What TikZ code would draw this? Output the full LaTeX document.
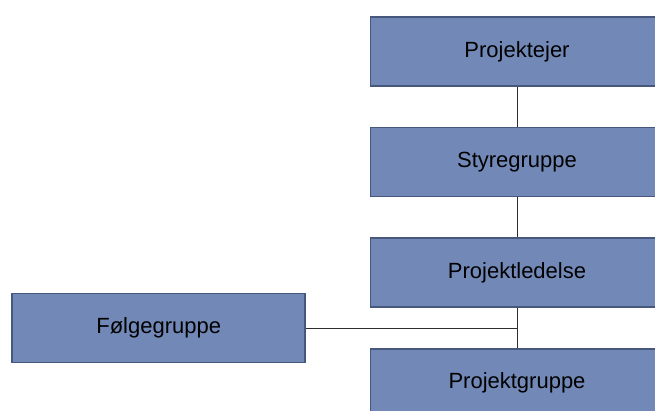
\documentclass[tikz,border=0pt]{standalone}
\usepackage{fontspec}
\setmainfont{Liberation Sans}
\usetikzlibrary{positioning,calc}
\definecolor{boxblue}{RGB}{114, 137, 184}
\definecolor{boxedge}{RGB}{72, 88, 124}
\definecolor{linegray}{RGB}{45, 45, 45}

\begin{document}
\begin{tikzpicture}[
    x=1pt, y=1pt,
    node distance=40pt,
    box/.style={draw=boxedge, line width=1.6pt, fill=boxblue, inner sep=0pt,
        minimum width=293pt, minimum height=69pt, font=\fontsize{22}{26}\selectfont},
    link/.style={draw=linegray, line width=1pt}
]
\useasboundingbox (0,0) rectangle (655,-411);
\clip (0,0) rectangle (655,-411);
\node[box] (owner) at (517,-51.5) {Projektejer};
\node[box, below=of owner] (steering) {Styregruppe};
\node[box, below=of steering] (lead) {Projektledelse};
\node[box, below=of lead] (team) {Projektgruppe};
\coordinate (junction) at ($(lead.south)!0.5!(team.north)$);
\node[box, left=211pt of junction, anchor=east] (follow) {Følgegruppe};
\draw[link] (owner) -- (steering);
\draw[link] (steering) -- (lead);
\draw[link] (lead) -- (team);
\draw[link] (follow) -- (junction);
\end{tikzpicture}
\end{document}
